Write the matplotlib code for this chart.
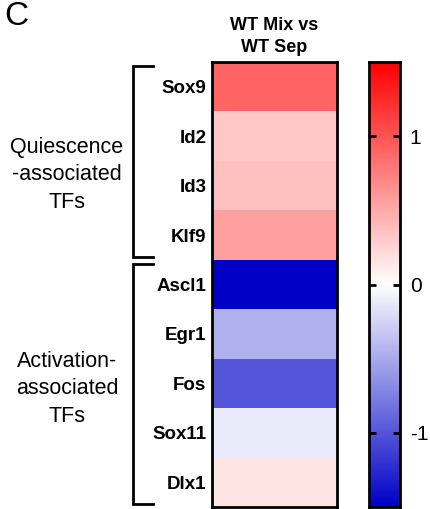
import numpy as np
import matplotlib
matplotlib.use("Agg")
import matplotlib.pyplot as plt
from matplotlib.colors import LinearSegmentedColormap, Normalize
from matplotlib.lines import Line2D

plt.rcParams['font.family'] = ['Liberation Sans', 'DejaVu Sans']

# Log fold-change, WT Mix vs WT Sep
genes = ["Sox9", "Id2", "Id3", "Klf9", "Ascl1", "Egr1", "Fos", "Sox11", "Dlx1"]
values = [0.91, 0.32, 0.37, 0.56, -1.50, -0.46, -1.00, -0.12, 0.16]
column_title = "WT Mix vs\nWT Sep"
groups = ["Quiescence\n-associated\nTFs", "Activation-\nassociated\nTFs"]
group_sizes = [4, 5]
cbar_ticks = [-1, 0, 1]
vmin, vmax = -1.5, 1.5

W, H = 430, 509
fig = plt.figure(figsize=(W / 100, H / 100), dpi=100)

def px_axes(x0, y0, x1, y1):
    return fig.add_axes([x0 / W, 1 - y1 / H, (x1 - x0) / W, (y1 - y0) / H])

cmap = LinearSegmentedColormap.from_list(
    "bwr_custom", [(0.0, 0.0, 0.78), (1.0, 1.0, 1.0), (1.0, 0.0, 0.0)])
norm = Normalize(vmin=vmin, vmax=vmax)

# Heatmap
ax = px_axes(212, 62, 337, 507)
data = np.array(values).reshape(-1, 1)
ax.pcolormesh(data, cmap=cmap, norm=norm)
ax.set_ylim(len(genes), 0)
ax.set_xlim(0, 1)
ax.set_xticks([])
ax.set_yticks(np.arange(len(genes)) + 0.5)
ax.set_yticklabels(genes, fontsize=13.5, fontweight='bold')
ax.tick_params(axis='y', length=0, pad=4)
for s in ax.spines.values():
    s.set_linewidth(2)
ax.set_title(column_title, fontsize=13, fontweight='bold', pad=7,
             linespacing=1.4)

# Colorbar
cax = px_axes(369, 62, 400, 507)
grad = np.linspace(vmin, vmax, 256).reshape(-1, 1)
cax.imshow(grad, aspect='auto', cmap=cmap, norm=norm, origin='lower',
           extent=[0, 1, vmin, vmax])
cax.set_xticks([])
cax.set_ylim(vmin, vmax)
cax.yaxis.set_ticks_position('both')
cax.set_yticks(cbar_ticks)
cax.set_yticklabels([str(t) for t in cbar_ticks], fontsize=15)
cax.tick_params(axis='y', direction='in', length=5, width=2,
                labelleft=False, labelright=True, pad=7)
for s in cax.spines.values():
    s.set_linewidth(2)

# Group brackets and labels
n = len(genes)
row_h = (507 - 62) / n
label_centers = [175, 389]
start = 0
bracket_x0, bracket_x1 = 133, 153
for label, size, yc in zip(groups, group_sizes, label_centers):
    y_top = 62 + start * row_h + 4
    y_bot = 62 + (start + size) * row_h - 3
    xs = [bracket_x1, bracket_x0, bracket_x0, bracket_x1]
    ys = [y_top, y_top, y_bot, y_bot]
    fig.add_artist(Line2D([x / W for x in xs], [1 - y / H for y in ys],
                          color='black', lw=2, solid_joinstyle='miter'))
    fig.text(67 / W, 1 - yc / H, label, ha='center', va='center',
             fontsize=15.5, linespacing=1.4)
    start += size

fig.text(4 / W, 1 - 1 / H, "C", fontsize=24, ha='left', va='top')

fig.savefig("out.png", dpi=100)
